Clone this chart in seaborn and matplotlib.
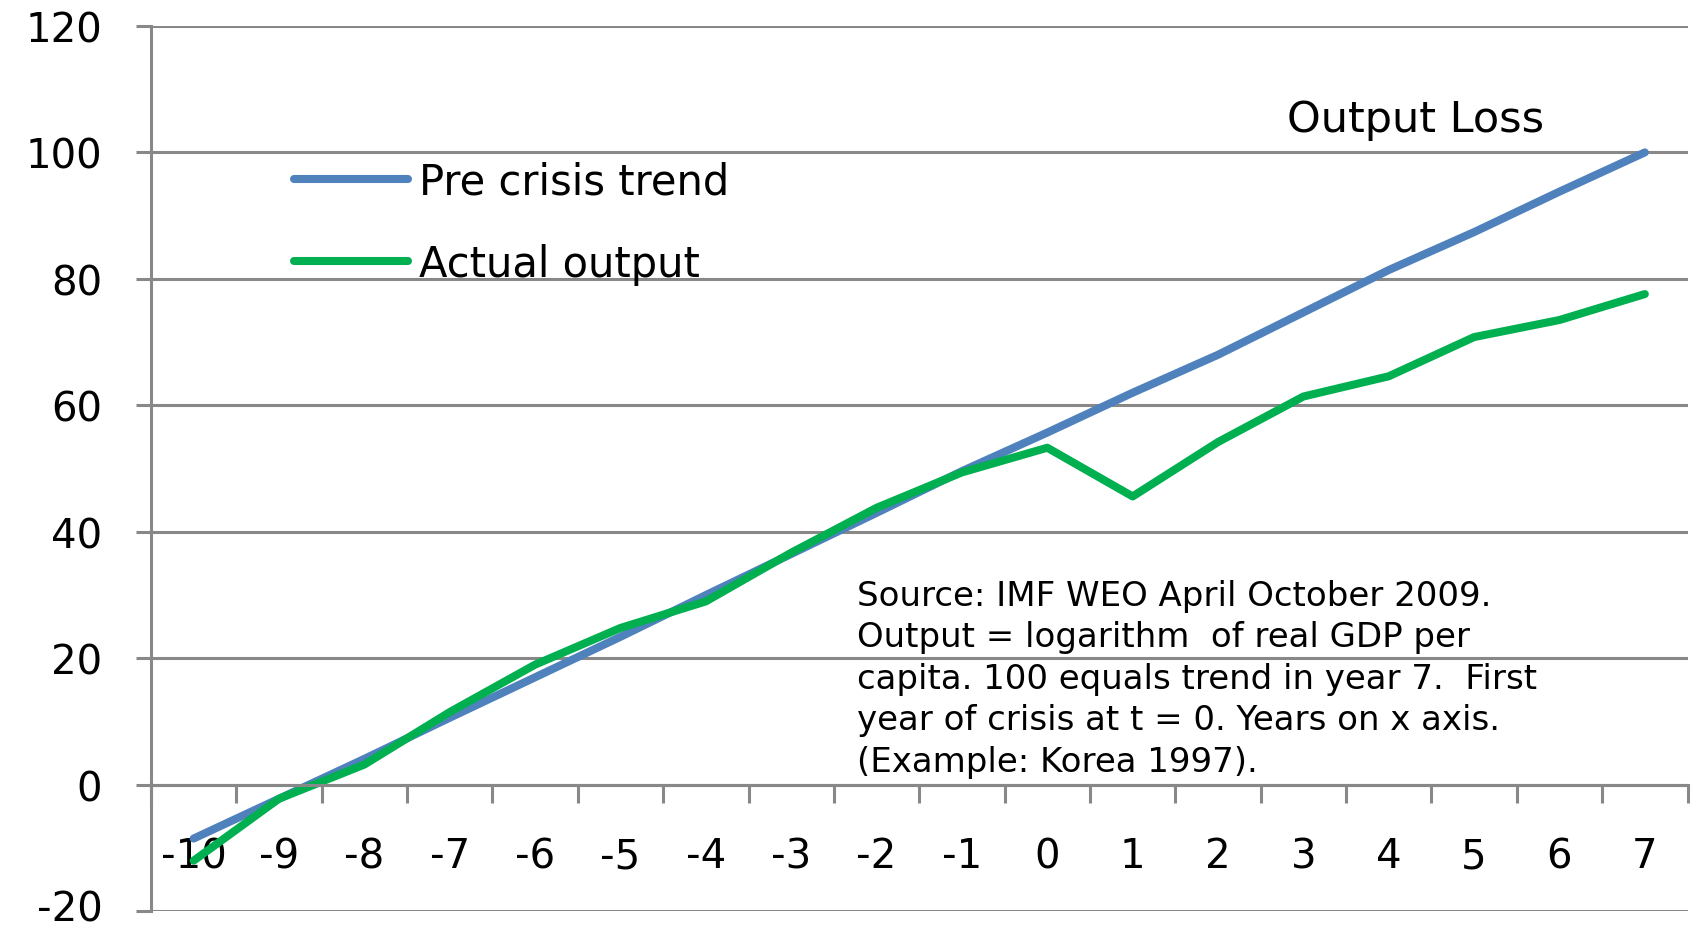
import numpy as np
import pandas as pd
import seaborn as sns
import matplotlib.pyplot as plt
from matplotlib.transforms import ScaledTranslation

# years relative to the first year of the crisis (t = 0)
years = list(range(-10, 8))

# index values (100 = trend in year 7)
trend = [-8.5, -2.2, 4.1, 10.6, 17.0, 23.4, 30.0, 36.5, 43.0,
         49.6, 55.7, 62.0, 68.0, 74.7, 81.4, 87.4, 93.8, 100.0]
actual = [-12.0, -2.2, 3.2, 11.5, 19.0, 24.8, 29.0, 36.7, 43.8,
          49.4, 53.3, 45.6, 54.2, 61.4, 64.6, 70.8, 73.5, 77.6]

series_names = ["Pre crisis trend", "Actual output"]
series_colors = ["#4F81BD", "#00B050"]

note = ("Source: IMF WEO April October 2009.\n"
        "Output = logarithm  of real GDP per\n"
        "capita. 100 equals trend in year 7.  First\n"
        "year of crisis at t = 0. Years on x axis.\n"
        "(Example: Korea 1997).")

plot_df = pd.concat([
    pd.DataFrame({"year": years, "value": trend, "series": series_names[0]}),
    pd.DataFrame({"year": years, "value": actual, "series": series_names[1]}),
])

sns.set_style("white")
plt.rcParams["font.family"] = ["DejaVu Sans"]
plt.rcParams["axes.unicode_minus"] = False
plt.rcParams["text.color"] = "black"
plt.rcParams["xtick.color"] = "black"
plt.rcParams["ytick.color"] = "black"

grid_grey = "#888888"

fig = plt.figure(figsize=(16.96, 9.29), dpi=100)
ax = fig.add_axes([0.089, 0.018, 0.906, 0.953])

sns.lineplot(
    data=plot_df,
    x="year",
    y="value",
    hue="series",
    palette=series_colors,
    linewidth=5.8,
    solid_capstyle="round",
    ax=ax,
)

ax.set_xlim(years[0] - 0.5, years[-1] + 0.5)
ax.set_ylim(-20, 120)
ax.set_yticks(np.arange(-20, 121, 20))
ax.yaxis.grid(True, color=grid_grey, linewidth=2.2)
ax.set_axisbelow(True)

# category axis crosses at zero, ticks on category boundaries
ax.spines["bottom"].set_position(("data", 0))
for side in ["top", "right"]:
    ax.spines[side].set_visible(False)
for side in ["left", "bottom"]:
    ax.spines[side].set_color(grid_grey)
    ax.spines[side].set_linewidth(2.2)

ax.set_xticks(np.arange(years[0] - 0.5, years[-1] + 1.0, 1.0))
ax.set_xticklabels([])
ax.set_xticks(years, minor=True)
ax.set_xticklabels([str(y) for y in years], minor=True)
ax.tick_params(axis="x", which="major", bottom=True, direction="out",
               length=13, width=2.2, color=grid_grey)
ax.tick_params(axis="x", which="minor", bottom=True, length=0, pad=37,
               labelsize=29, labelcolor="black")
ax.tick_params(axis="y", left=True, direction="out", length=11, width=2.2,
               color=grid_grey, pad=24, labelsize=29, labelcolor="black")
ax.set_xlabel("")
ax.set_ylabel("")

# lowest label sits right on the bottom edge, nudge it up a little
bottom_label = ax.get_yticklabels()[0]
bottom_label.set_transform(bottom_label.get_transform()
                           + ScaledTranslation(0, 6 / 100, fig.dpi_scale_trans))

ax.legend(
    loc="upper left",
    bbox_to_anchor=(0.151, 0.866),
    bbox_transform=fig.transFigure,
    frameon=False,
    fontsize=30,
    handlelength=2.75,
    handletextpad=0.26,
    labelspacing=0.95,
)

ax.text(2.81, 105.3, "Output Loss", fontsize=31, va="center", ha="left")
ax.text(-2.23, 32.6, note, fontsize=24.5, va="top", ha="left",
        linespacing=1.33)

fig.savefig("out.png", dpi=100)
